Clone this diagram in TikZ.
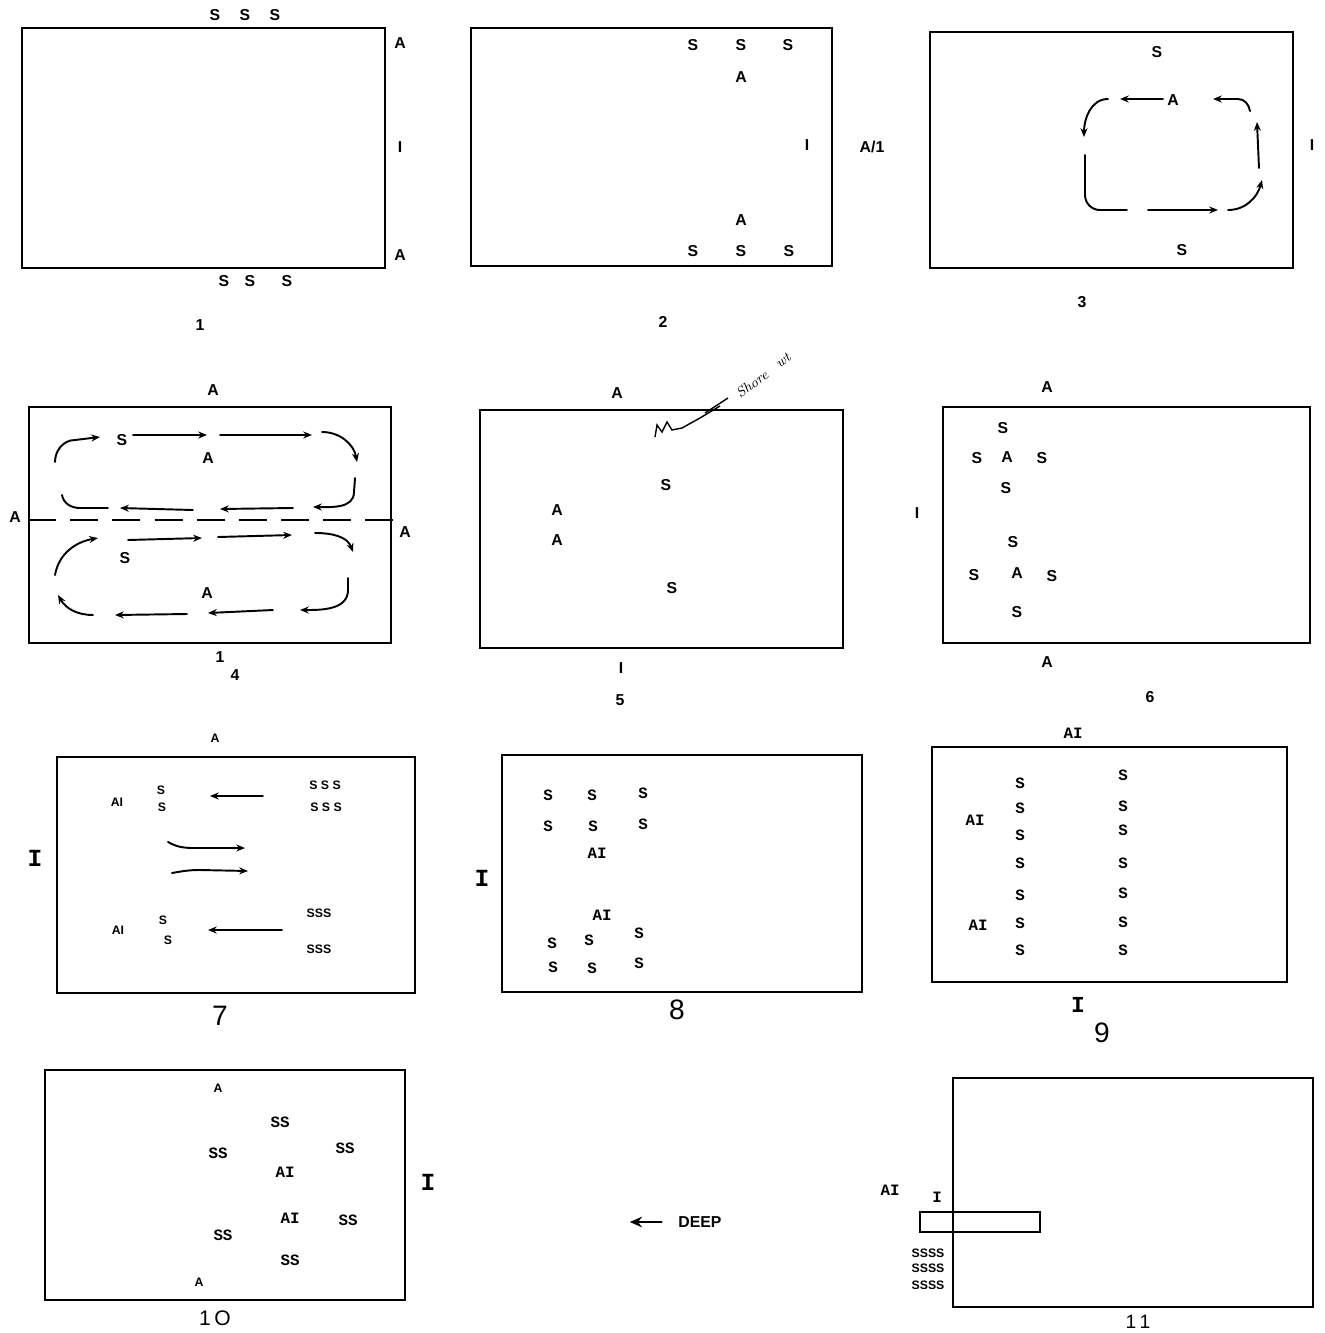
\documentclass[tikz,border=0pt]{standalone}
\usepackage{fontspec}
\setsansfont{Liberation Sans}
\setmonofont{Liberation Mono}
\usetikzlibrary{arrows.meta}

\begin{document}
\begin{tikzpicture}[x=0.02cm,y=-0.02cm,
   font=\sffamily\bfseries\fontsize{9}{9}\selectfont,
   frame/.style={line width=1.3pt},
   ln/.style={line width=1.1pt,line cap=round},
   ar/.style={ln,-{Stealth[length=5pt,width=4pt]}},
   hw/.style={font=\ttfamily\bfseries\fontsize{9}{9}\selectfont},
   sm/.style={font=\sffamily\bfseries\fontsize{7}{7}\selectfont}]
\useasboundingbox (0,0) rectangle (1325,1333);
%% ---- panel 1 ----
\draw[frame] (22,28) rectangle (385,268);
\node (p1s1) at (215,15) {S};
\node (p1s2) at (245,15) {S};
\node (p1s3) at (275,15) {S};
\node (p1s4) at (224,281) {S};
\node (p1s5) at (250,281) {S};
\node (p1s6) at (287,281) {S};
\node (p1a1) at (400,43) {A};
\node (p1i) at (400,147) {I};
\node (p1a2) at (400,255) {A};
\node (cap1) at (200,325) {1};
%% ---- panel 2 ----
\draw[frame] (471,28) rectangle (832,266);
\node (p2s1) at (693,45) {S};
\node (p2s2) at (741,45) {S};
\node (p2s3) at (788,45) {S};
\node (p2a1) at (741,77) {A};
\node (p2i) at (807,145) {I};
\node (p2a2) at (741,220) {A};
\node (p2s4) at (693,251) {S};
\node (p2s5) at (741,251) {S};
\node (p2s6) at (789,251) {S};
\node (p2ai) at (872,147) {A/1};
\node (cap2) at (663,322) {2};
%% ---- panel 3 ----
\draw[frame] (930,32) rectangle (1293,268);
\node (p3s1) at (1157,52) {S};
\node (p3a) at (1173,100) {A};
\node (p3s2) at (1182,250) {S};
\node (p3i) at (1312,145) {I};
\node (cap3) at (1082,302) {3};
\draw[ar] (1163,99) -- (1120,99);
\draw[ar] (1108,99) to[out=180,in=90] (1084,137);
\draw[ln] (1085,155) -- (1085,195) to[out=-90,in=180] (1100,210) -- (1127,210);
\draw[ar] (1148,210) -- (1218,210);
\draw[ar] (1228,210) to[out=0,in=-105] (1262,180);
\draw[ar] (1259,168) -- (1257,122);
\draw[ar] (1250,111) to[out=100,in=0] (1238,99) -- (1213,99);
%% ---- panel 4 ----
\draw[frame] (29,407) rectangle (391,643);
\node (p4a1) at (213,390) {A};
\node (p4a2) at (15,517) {A};
\node (p4a3) at (405,532) {A};
\node (p4s1) at (122,440) {S};
\node (p4a4) at (208,458) {A};
\node (p4s2) at (125,558) {S};
\node (p4a5) at (207,593) {A};
\node (cap4a) at (220,657) {1};
\node (cap4b) at (235,675) {4};
\draw[line width=1.1pt,dash pattern=on 16pt off 8pt] (28,520) -- (400,520);
% upper loop
\draw[ar] (55,462) to[out=90,in=180] (75,440) -- (100,437);
\draw[ar] (133,435) -- (207,435);
\draw[ar] (220,435) -- (312,435);
\draw[ar] (322,432) to[out=0,in=100] (357,462);
\draw[ar] (355,478) -- (354,492) to[out=-90,in=0] (313,507);
\draw[ar] (293,508) -- (220,509);
\draw[ar] (193,510) -- (120,508);
\draw[ln] (108,508) -- (80,508) to[out=180,in=-80] (62,495);
% lower loop
\draw[ar] (55,575) to[out=80,in=190] (98,538);
\draw[ar] (128,540) -- (202,538);
\draw[ar] (218,537) -- (292,535);
\draw[ar] (315,533) to[out=0,in=110] (353,552);
\draw[ar] (348,578) -- (348,590) to[out=-90,in=0] (300,610);
\draw[ar] (273,610) -- (208,613);
\draw[ar] (187,614) -- (115,615);
\draw[ar] (93,615) to[out=180,in=-60] (58,595);
%% ---- panel 5 ----
\draw[frame] (480,410) rectangle (843,648);
\node (p5a1) at (617,393) {A};
\node (p5s1) at (666,485) {S};
\node (p5a2) at (557,510) {A};
\node (p5a3) at (557,540) {A};
\node (p5s2) at (672,588) {S};
\node (cap5a) at (621,668) {I};
\node (cap5b) at (620,700) {5};
\draw[line width=0.8pt] (655,437) -- (657,425) -- (662,432) -- (667,422) -- (672,430)
   -- (682,428) -- (700,418) -- (720,406);
\draw[line width=0.8pt] (705,413) -- (728,398);
\node[rotate=37,inner sep=0pt,font=\itshape\fontsize{8}{8}\selectfont] (p5hw1) at (752,384) {Shore};
\node[rotate=37,inner sep=0pt,font=\itshape\fontsize{8}{8}\selectfont] (p5hw2) at (783,361) {wt};
%% ---- panel 6 ----
\draw[frame] (943,407) rectangle (1310,643);
\node (p6a1) at (1047,387) {A};
\node (p6a2) at (1047,662) {A};
\node (p6i) at (917,513) {I};
\node (p6s1) at (1003,428) {S};
\node (p6s2) at (977,458) {S};
\node (p6a3) at (1007,457) {A};
\node (p6s3) at (1042,458) {S};
\node (p6s4) at (1006,488) {S};
\node (p6s5) at (1013,542) {S};
\node (p6s6) at (974,575) {S};
\node (p6a4) at (1017,573) {A};
\node (p6s7) at (1052,576) {S};
\node (p6s8) at (1017,612) {S};
\node (cap6) at (1150,697) {6};
%% ---- panel 7 ----
\draw[frame] (57,757) rectangle (415,993);
\node[sm] (p7a) at (215,738) {A};
\node[hw,font=\ttfamily\bfseries\fontsize{14}{14}\selectfont] (p7i) at (35,858) {I};
\node[sm] (p7ai1) at (117,802) {AI};
\node[sm] (p7s1) at (161,790) {S};
\node[sm] (p7s2) at (162,807) {S};
\node[sm] (p7r1) at (325,785) {S S S};
\node[sm] (p7r2) at (326,807) {S S S};
\draw[ar] (263,796) -- (210,796);
\draw[ar] (168,842) to[out=-30,in=180] (200,848) -- (245,848);
\draw[ar] (172,873) to[out=10,in=180] (200,870) -- (248,871);
\node[sm] (p7ai2) at (118,930) {AI};
\node[sm] (p7s3) at (163,920) {S};
\node[sm] (p7s4) at (168,940) {S};
\draw[ar] (282,930) -- (208,930);
\node[sm] (p7r3) at (319,913) {SSS};
\node[sm] (p7r4) at (319,949) {SSS};
\node[font=\sffamily\fontsize{16}{16}\selectfont] (cap7) at (220,1016) {7};
%% ---- panel 8 ----
\draw[frame] (502,755) rectangle (862,992);
\node[hw,font=\ttfamily\bfseries\fontsize{14}{14}\selectfont] (p8i) at (482,878) {I};
\node[hw] (p8s1) at (548,795) {S};
\node[hw] (p8s2) at (592,795) {S};
\node[hw] (p8s3) at (643,793) {S};
\node[hw] (p8s4) at (548,826) {S};
\node[hw] (p8s5) at (593,826) {S};
\node[hw] (p8s6) at (643,824) {S};
\node[hw] (p8ai1) at (597,853) {AI};
\node[hw] (p8ai2) at (602,915) {AI};
\node[hw] (p8s7) at (552,943) {S};
\node[hw] (p8s8) at (589,940) {S};
\node[hw] (p8s9) at (639,933) {S};
\node[hw] (p8s10) at (553,967) {S};
\node[hw] (p8s11) at (592,968) {S};
\node[hw] (p8s12) at (639,963) {S};
\node[font=\sffamily\fontsize{16}{16}\selectfont] (cap8) at (677,1010) {8};
%% ---- panel 9 ----
\draw[frame] (932,747) rectangle (1287,982);
\node[hw] (p9ai0) at (1073,733) {AI};
\node[hw] (p9ai1) at (975,820) {AI};
\node[hw] (p9ai2) at (978,925) {AI};
\foreach \yy [count=\k] in {783,808,835,863,895,923,950}
  \node[hw] (p9l\k) at (1020,\yy) {S};
\foreach \yy [count=\k] in {775,806,830,863,893,922,950}
  \node[hw] (p9r\k) at (1123,\yy) {S};
\node[hw,font=\ttfamily\bfseries\fontsize{13}{13}\selectfont] (p9i) at (1078,1005) {I};
\node[font=\sffamily\fontsize{16}{16}\selectfont] (cap9) at (1102,1033) {9};
%% ---- panel 10 ----
\draw[frame] (45,1070) rectangle (405,1300);
\node[hw,font=\ttfamily\bfseries\fontsize{14}{14}\selectfont] (p10i) at (428,1182) {I};
\node[sm] (p10a1) at (218,1088) {A};
\node[hw] (p10s1) at (280,1122) {SS};
\node[hw] (p10s2) at (218,1153) {SS};
\node[hw] (p10s3) at (345,1148) {SS};
\node[hw] (p10ai1) at (285,1172) {AI};
\node[hw] (p10ai2) at (290,1218) {AI};
\node[hw] (p10s4) at (348,1220) {SS};
\node[hw] (p10s5) at (223,1235) {SS};
\node[hw] (p10s6) at (290,1260) {SS};
\node[sm] (p10a2) at (199,1282) {A};
\node[inner sep=1pt,font=\sffamily\fontsize{12}{12}\selectfont] (cap10) at (215,1318) {1\,O};
%% ---- deep ----
\node (deep) at (700,1222) {DEEP};
\draw[ln,-{Stealth[length=7pt,width=6pt]}] ([xshift=-6pt]deep.west) -- ++(-32,0);
%% ---- panel 11 ----
\draw[frame] (953,1078) rectangle (1313,1307);
\draw[line width=1.1pt] (920,1212) rectangle (1040,1232);
\node[hw] (p11ai) at (890,1190) {AI};
\node[hw] (p11i) at (937,1197) {I};
\node[sm] (p11r1) at (928,1253) {SSSS};
\node[sm] (p11r2) at (928,1268) {SSSS};
\node[sm] (p11r3) at (928,1285) {SSSS};
\node[inner sep=1pt,font=\sffamily\fontsize{11}{11}\selectfont] (cap11) at (1138,1322) {1\,1};
\end{tikzpicture}
\end{document}
